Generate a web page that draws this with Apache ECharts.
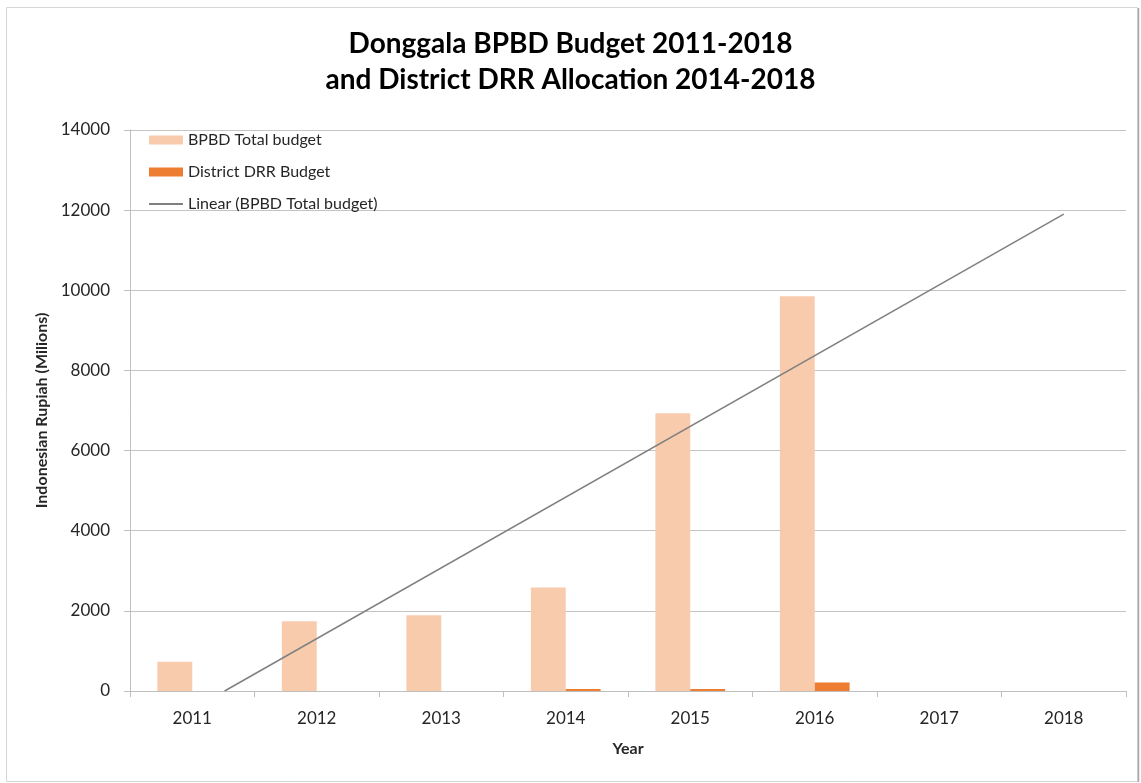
<!DOCTYPE html>
<html>
<head>
<meta charset="utf-8">
<script src="https://cdn.jsdelivr.net/npm/echarts@6/dist/echarts.min.js"></script>
<style>
html,body{margin:0;padding:0;background:#fff;}
#chart{width:1141px;height:783px;}
</style>
</head>
<body>
<div id="chart"></div>
<script>
const titleText = 'Donggala BPBD Budget 2011-2018\nand District DRR Allocation 2014-2018';
const years = ['2011','2012','2013','2014','2015','2016','2017','2018'];
const bpbdTotal = [730, 1740, 1890, 2580, 6930, 9850, null, null];
const districtDRR = [null, null, null, 50, 50, 210, null, null];
// Linear trend line (BPBD Total budget), endpoints (year, value)
const trendYears = [2011.26, 2018];
const trendValues = [0, 11900];
const yTicks = [0, 2000, 4000, 6000, 8000, 10000, 12000, 14000];

const FONT = 'Lato, "Open Sans", sans-serif';
const chart = echarts.init(document.getElementById('chart'), null, {renderer: 'canvas'});

const option = {
  backgroundColor: '#ffffff',
  animation: false,
  textStyle: {fontFamily: FONT},
  title: {
    text: titleText,
    left: 'center',
    top: 21,
    textStyle: {fontFamily: FONT, fontSize: 28, fontWeight: 'bold', color: '#000', lineHeight: 36}
  },
  graphic: [
    {type: 'rect', shape: {x: 6.5, y: 7.5, width: 1131, height: 774}, style: {fill: 'none', stroke: '#d6d6d6', lineWidth: 1}, silent: true},
    {type: 'line', shape: {x1: 1138.5, y1: 8, x2: 1138.5, y2: 782}, style: {stroke: '#a8a8a8', lineWidth: 1.5}, silent: true}
  ],
  legend: {
    orient: 'vertical',
    left: 143,
    top: 127,
    itemWidth: 34,
    itemHeight: 9,
    itemGap: 16,
    textStyle: {fontFamily: FONT, fontSize: 16, color: '#262626'},
    data: [
      {name: 'BPBD Total budget', icon: 'rect'},
      {name: 'District DRR Budget', icon: 'rect'},
      {name: 'Linear (BPBD Total budget)', itemStyle: {opacity: 0, color: 'transparent', borderWidth: 0}}
    ]
  },
  grid: {left: 130, right: 15, top: 130, bottom: 92, containLabel: false},
  xAxis: [
    {
      type: 'category',
      data: years,
      boundaryGap: true,
      name: 'Year',
      nameLocation: 'middle',
      nameGap: 50,
      nameTextStyle: {fontFamily: FONT, fontSize: 16, fontWeight: 'bold', color: '#262626'},
      axisLine: {lineStyle: {color: '#bfbfbf', width: 1}},
      axisTick: {show: true, length: 6, lineStyle: {color: '#bfbfbf'}},
      axisLabel: {fontFamily: FONT, fontSize: 17, color: '#262626', margin: 19},
      splitLine: {show: false}
    },
    {
      type: 'value',
      min: 2010.5,
      max: 2018.5,
      show: false
    }
  ],
  yAxis: {
    type: 'value',
    min: 0,
    max: 14000,
    interval: 2000,
    name: 'Indonesian Rupiah (Milions)',
    nameLocation: 'middle',
    nameGap: 80,
    nameTextStyle: {fontFamily: FONT, fontSize: 16, fontWeight: 'bold', color: '#262626'},
    axisLine: {show: true, lineStyle: {color: '#bfbfbf', width: 1}},
    axisTick: {show: true, length: 6, lineStyle: {color: '#bfbfbf'}},
    axisLabel: {fontFamily: FONT, fontSize: 17, color: '#262626', margin: 20,
      formatter: function (v) { return yTicks.indexOf(v) >= 0 ? String(v) : ''; }},
    splitLine: {show: true, lineStyle: {color: '#c4c4c4', width: 1}}
  },
  series: [
    {
      name: 'BPBD Total budget',
      type: 'bar',
      data: bpbdTotal,
      barGap: '0%',
      barCategoryGap: '44%',
      itemStyle: {color: '#f8cbad'},
      z: 2
    },
    {
      name: 'District DRR Budget',
      type: 'bar',
      data: districtDRR,
      barGap: '0%',
      barCategoryGap: '44%',
      itemStyle: {color: '#ed7d31'},
      z: 2
    },
    {
      name: 'Linear (BPBD Total budget)',
      type: 'line',
      xAxisIndex: 1,
      data: trendYears.map((x, i) => [x, trendValues[i]]),
      symbol: 'none',
      showSymbol: false,
      lineStyle: {color: '#808080', width: 1.5},
      itemStyle: {color: '#808080'},
      z: 3
    }
  ]
};
chart.setOption(option);
</script>
</body>
</html>
